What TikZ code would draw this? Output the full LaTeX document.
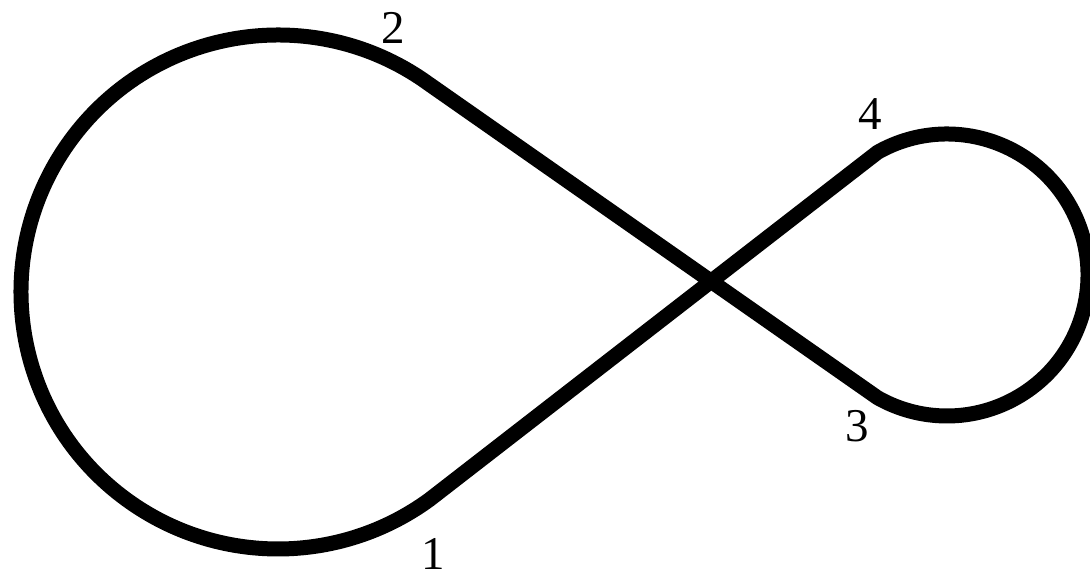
\documentclass[tikz,border=0pt]{standalone}
\usepackage{fontspec}
\setmainfont{Liberation Serif}
\usetikzlibrary{calc}
\begin{document}
\begin{tikzpicture}[x=1pt,y=1pt,
  loop/.style={line width=15pt,line join=round,line cap=round,black},
  lbl/.style={inner sep=0pt,font=\fontsize{47}{47}\selectfont}]
\useasboundingbox (0,0) rectangle (1090,579);
\coordinate (C1) at (278,287);
\coordinate (C2) at (947,304);
\coordinate (p1) at ($(C1)+(-53.84:257)$);
\coordinate (p2) at ($(C1)+(54.2:257)$);
\coordinate (p4) at ($(C2)+(119.5:141)$);
\coordinate (p3) at ($(C2)+(-119.5:141)$);
\draw[loop] (p1) -- (p4) arc[start angle=119.5,end angle=-119.5,radius=141]
  -- (p2) arc[start angle=54.2,end angle=306.16,radius=257] -- cycle;
\node[lbl] (l1) at (433,25) {1};
\node[lbl] (l2) at (393,551) {2};
\node[lbl] (l3) at (857,153) {3};
\node[lbl] (l4) at (870,465) {4};
\end{tikzpicture}
\end{document}
